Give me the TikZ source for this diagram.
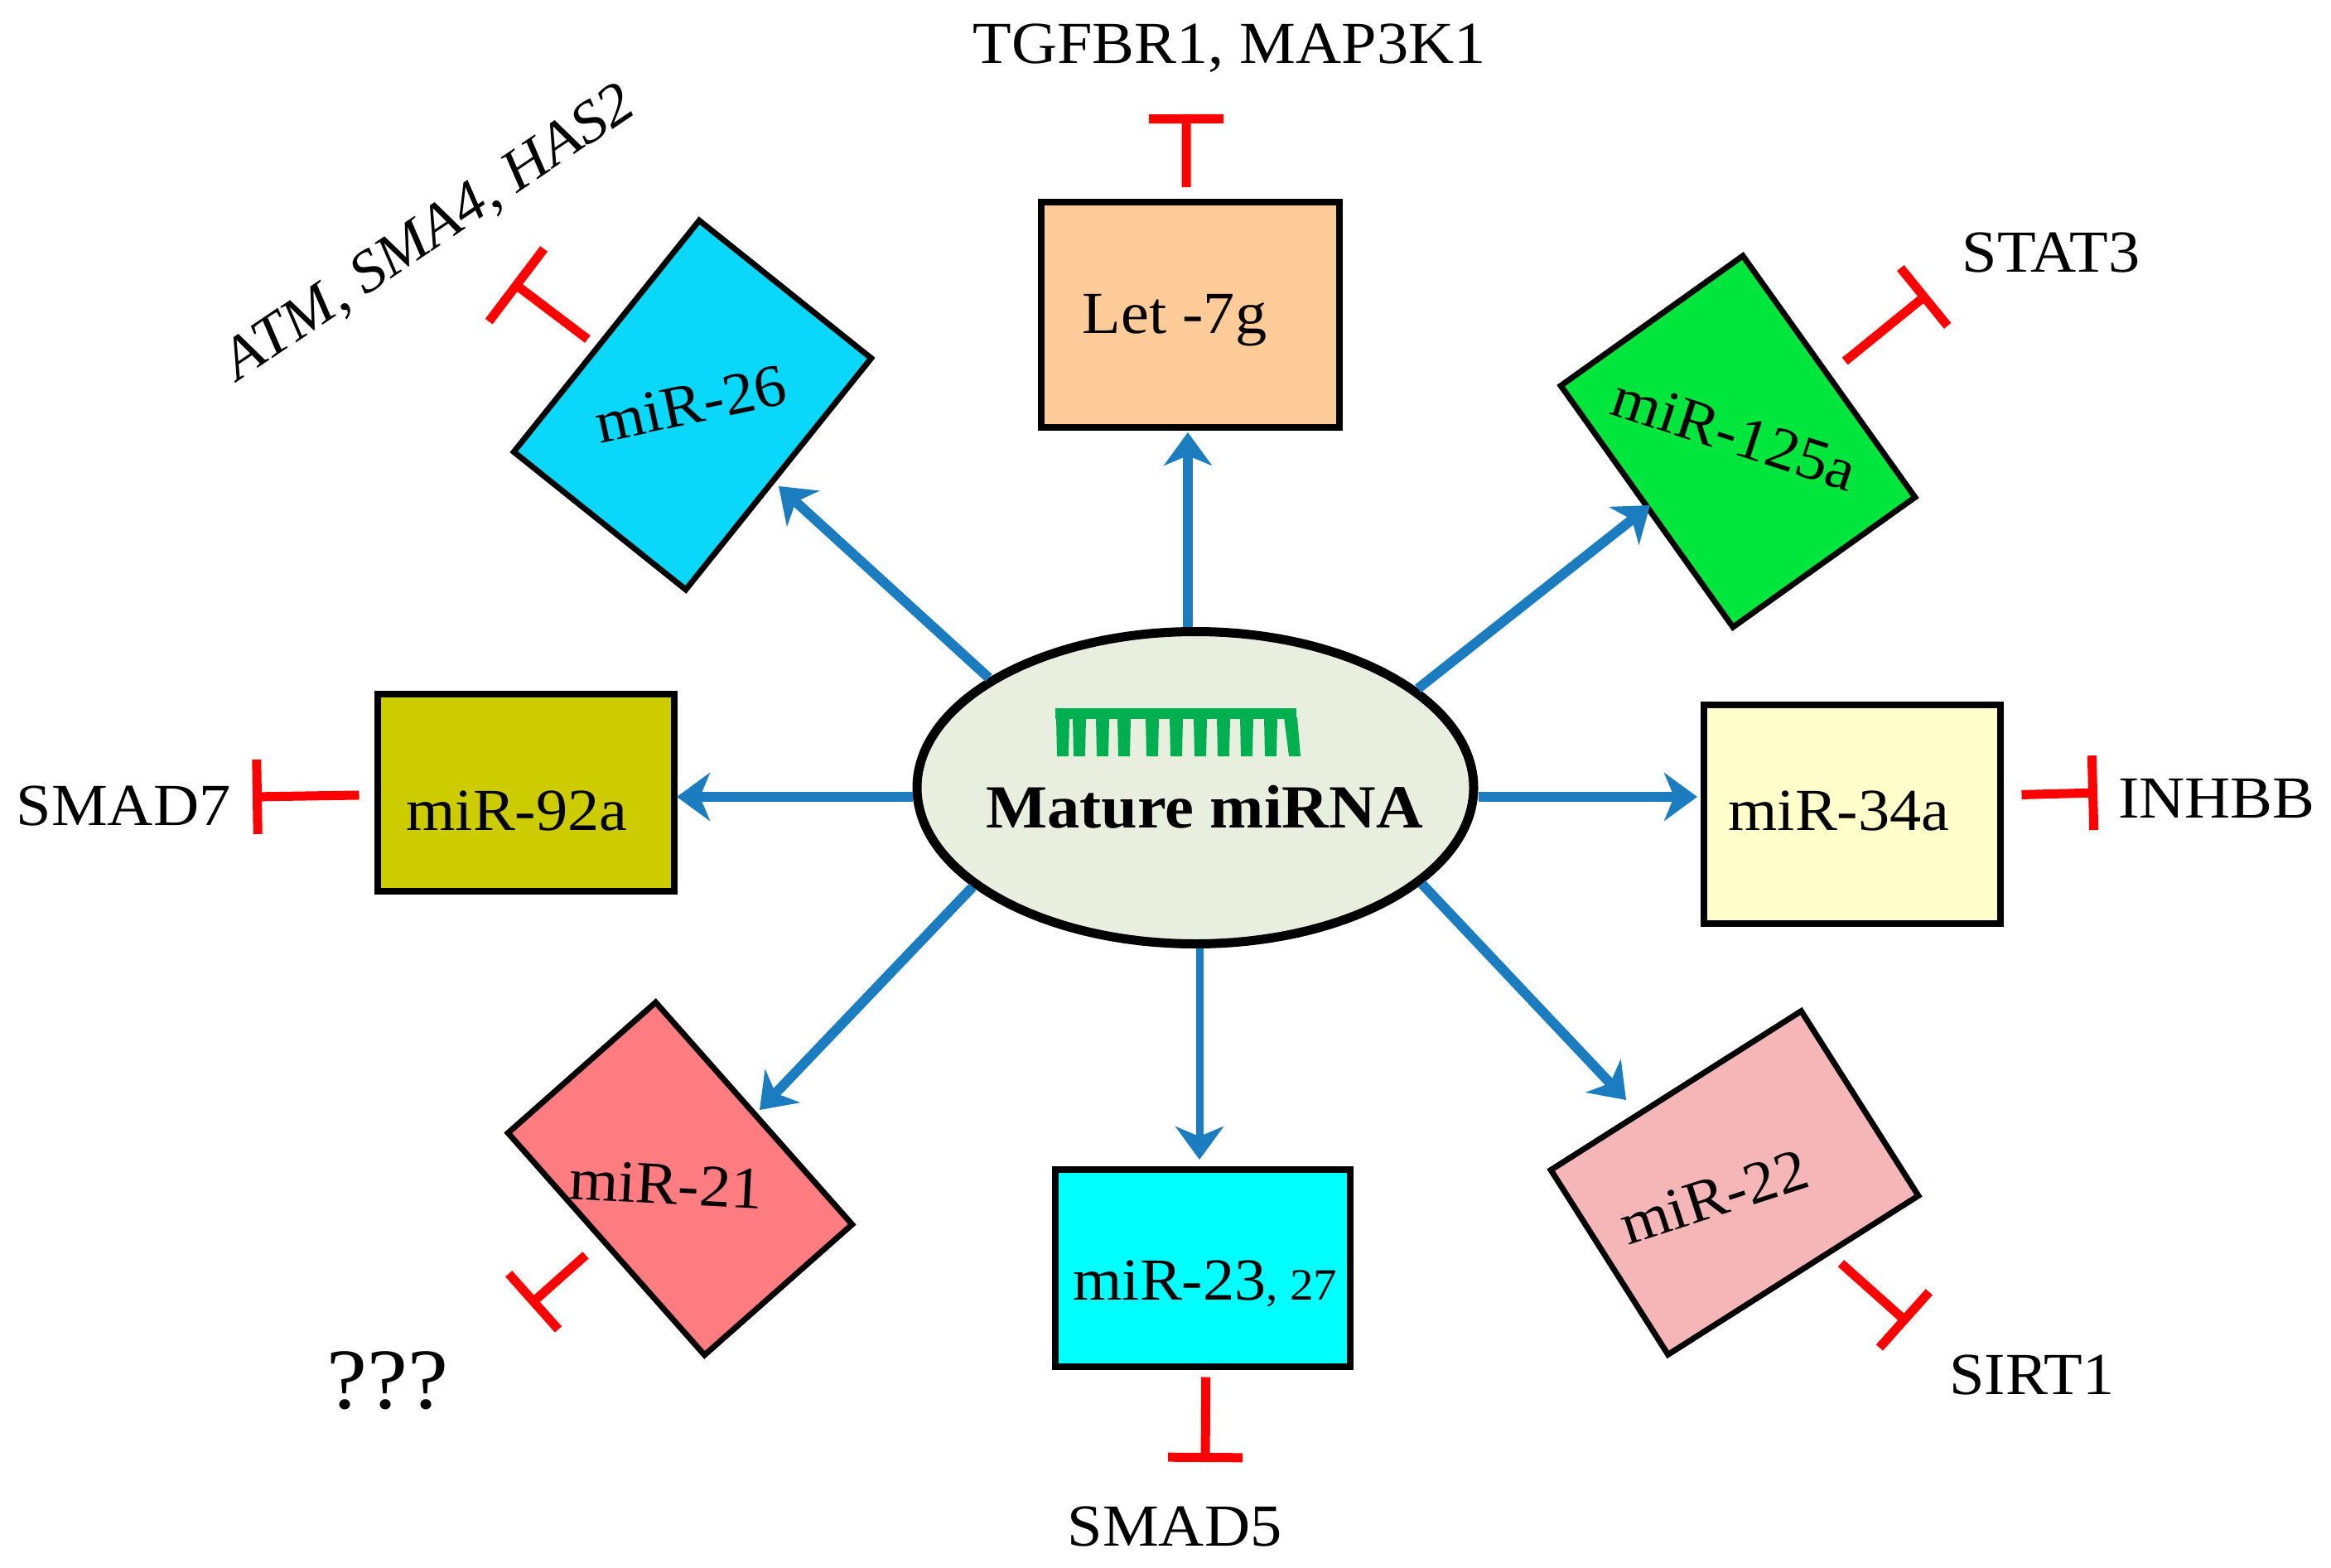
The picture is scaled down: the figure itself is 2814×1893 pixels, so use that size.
\documentclass[tikz,border=0pt]{standalone}
\usepackage{fontspec}
\setmainfont[FakeStretch=1.06]{Liberation Serif}
\usetikzlibrary{arrows.meta,shapes.geometric}
\definecolor{arrowblue}{HTML}{1B7CBF}
\definecolor{inhibred}{HTML}{FF0000}
\definecolor{combgreen}{HTML}{00B050}
\definecolor{ovalfill}{HTML}{E9EFDF}
\tikzset{
  mirbox/.style={draw=black,rectangle,line width=4pt,inner sep=0pt},
  tiltbox/.style={draw=black,rectangle,line width=3.5pt,inner sep=0pt,line join=miter},
  txt/.style={inner sep=0pt,outer sep=0pt,font=\fontsize{36}{40}\selectfont,text=black},
  flow/.style={draw=arrowblue,line width=6pt,-{Stealth[length=20pt,width=29pt,inset=6pt]}},
  inhib/.style={draw=inhibred,line width=5.5pt,-{Bar[width=45pt,line width=5.5pt]}},
}
\begin{document}
\begin{tikzpicture}[x=0.5pt,y=-0.5pt]
\useasboundingbox (0,0) rectangle (2814,1893);
% boxes
\node[mirbox,fill={rgb,255:red,255;green,204;blue,153},minimum width=180pt,minimum height=136pt] (let) at (1437,380) {};
\node[mirbox,fill={rgb,255:red,204;green,204;blue,0},minimum width=179pt,minimum height=119pt] (b92) at (634.5,956.5) {};
\node[mirbox,fill={rgb,255:red,255;green,255;blue,204},minimum width=179pt,minimum height=132pt] (b34) at (2235.5,982.5) {};
\node[mirbox,fill={rgb,255:red,0;green,255;blue,255},minimum width=178pt,minimum height=119pt] (b23) at (1451.5,1530.5) {};
\node[tiltbox,fill={rgb,255:red,10;green,216;blue,251},rotate=51.3,minimum width=179pt,minimum height=133pt] (b26) at (836,489) {};
\node[tiltbox,fill={rgb,255:red,0;green,230;blue,60},rotate=-54.5,minimum width=179pt,minimum height=135pt] (b125) at (2098,533) {};
\node[tiltbox,fill={rgb,255:red,255;green,124;blue,128},rotate=-48.5,minimum width=179pt,minimum height=119pt] (b21) at (821,1423) {};
\node[tiltbox,fill={rgb,255:red,244;green,182;blue,182},rotate=32.4,minimum width=179pt,minimum height=132pt] (b22) at (2094,1428) {};
% centre
\node[ellipse,draw=black,fill=ovalfill,line width=5.5pt,minimum width=336pt,minimum height=188.5pt,inner sep=0pt] (m) at (1443,951) {};
% comb
\fill[combgreen] (1274,855) -- (1565,855) -- (1565,868) -- (1274,868) -- cycle;
\foreach \tx/\sl in {1283/0,1303/0,1331/0,1357/0,1391/0,1420/0,1449/0,1477/0,1505/0,1534/0,1558/5}{
  \fill[combgreen] (\tx-8,866) -- (\tx+8,866) -- (\tx+7+\sl,913) -- (\tx-7+\sl,913) -- cycle;
}
\node[txt,font=\fontsize{37}{40}\selectfont\bfseries] (mt) at (1454,974) {Mature miRNA};
% box labels
\node[txt] (tlet) at (1418,387) {Let -7g};
\node[txt] (t92) at (624,979) {miR-92a};
\node[txt] (t34) at (2220,979) {miR-34a};
\node[txt] (t23) at (1455,1550) {miR-23{\fontsize{27}{30}\selectfont, 27}};
\node[txt,rotate=12] (t26) at (834,488) {miR-26};
\node[txt,rotate=-18] (t125) at (2094,524) {miR-125a};
\node[txt,rotate=-3] (t21) at (804,1430) {miR-21};
\node[txt,rotate=18] (t22) at (2069,1445) {miR-22};
% target labels
\node[txt] (gtg) at (1484,58) {TGFBR1, MAP3K1};
\node[txt,font=\fontsize{35.5}{40}\selectfont\itshape,rotate=34] (gatm) at (519,283) {ATM, SMA4, HAS2};
\node[txt] (gst) at (2476,305) {STAT3};
\node[txt] (gsm7) at (149,973) {SMAD7};
\node[txt] (gin) at (2676,964) {INHBB};
\node[txt] (gsi) at (2453,1660) {SIRT1};
\node[txt] (gsm5) at (1418,1843) {SMAD5};
\node[txt,font=\fontsize{52}{56}\selectfont] (gq) at (468,1667) {???};
% arrow tips
\coordinate (aLet) at (1434,522);
\coordinate (a26) at (940,587);
\coordinate (a125) at (1992,610);
\coordinate (a92) at (817,962);
\coordinate (a34) at (2049,962);
\coordinate (a21) at (917,1340);
\coordinate (a23) at (1448,1400);
\coordinate (a22) at (1963,1328);
\draw[flow] (aLet |- m.north) -- (aLet);
\draw[flow] (m.152.4) -- (a26);
\draw[flow] (m.24) -- (a125);
\draw[flow] (m.west |- a92) -- (a92);
\draw[flow] (m.east |- a34) -- (a34);
\draw[flow] (m.204.9) -- (a21);
\draw[flow,line width=4.5pt] (a23 |- m.south) -- (a23);
\draw[flow] (m.-23.5) -- (a22);
% inhibition ends
\coordinate (iLet) at (1432,138);
\coordinate (i26) at (619,341);
\coordinate (i125) at (2327,355);
\coordinate (i34) at (2532,957);
\coordinate (i22) at (2303,1597);
\coordinate (i23) at (1455,1765);
\coordinate (i21) at (640,1575);
\coordinate (i92) at (305,962);
\draw[inhib,shorten <=7pt] (let.92) -- (iLet);
\draw[inhib,-{Bar[width=55pt,line width=5.5pt]},shorten <=6pt] (b26.97.4) -- (i26);
\draw[inhib,shorten <=11.5pt] (b125.91.2) -- (i125);
\draw[inhib,shorten <=11pt] (b34.7) -- (i34);
\draw[inhib,shorten <=8pt] (b22.-69.7) -- (i22);
\draw[inhib,shorten <=4.5pt] (b23.-88.5) -- (i23);
\draw[inhib,shorten <=12pt] (b21.-93.3) -- (i21);
\draw[inhib,shorten <=9pt] (b92.181) -- (i92);
\end{tikzpicture}
\end{document}
